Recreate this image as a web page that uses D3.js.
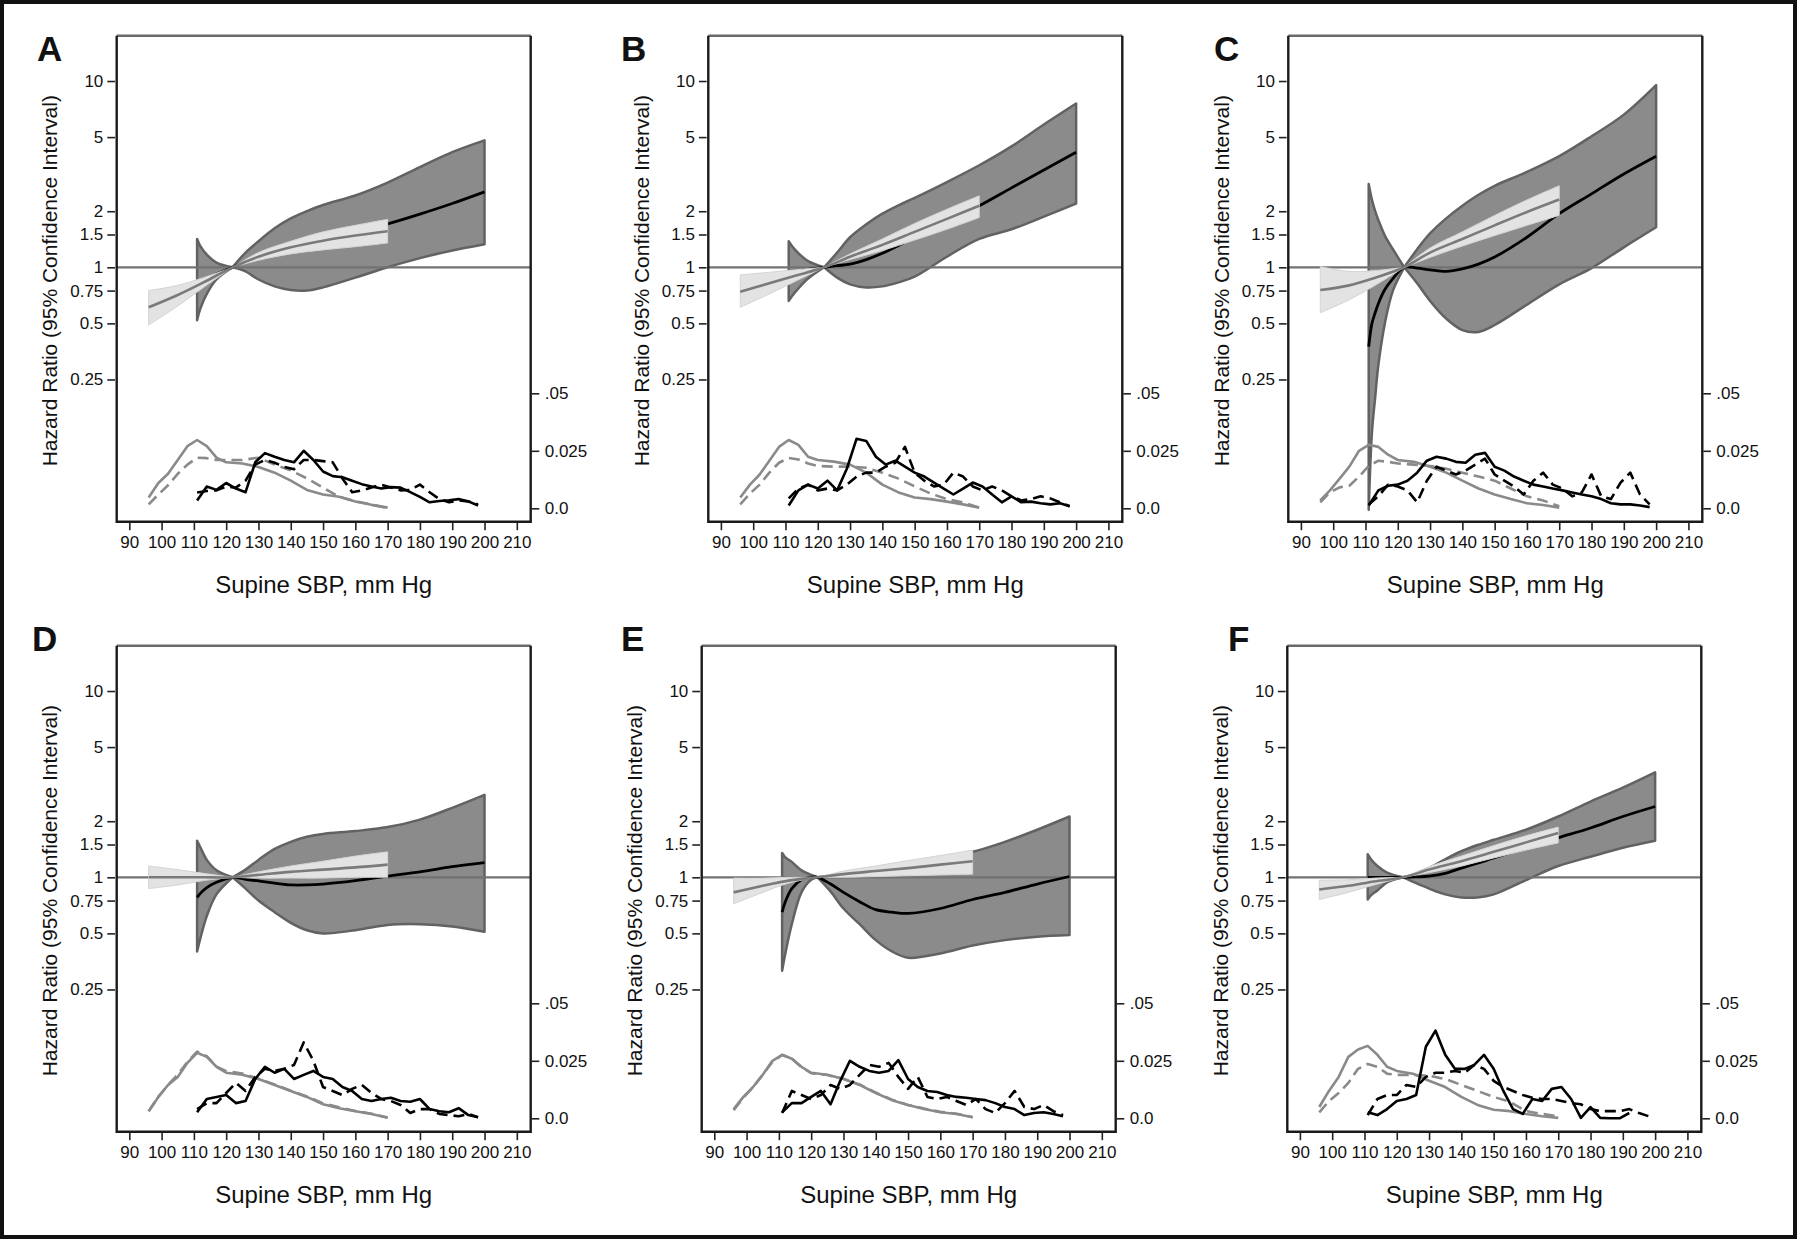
<!DOCTYPE html>
<meta charset="UTF-8">
<style>
body { margin: 0; background: #fff; }
text { font-family: "Liberation Sans", Arial, sans-serif; fill: #111; }
</style>
<body>
<script src="https://cdn.jsdelivr.net/npm/d3@7"></script>
<script>

var panelNames = ["A", "B", "C", "D", "E", "F"];

// axis ticks
var hrTicks = [10, 5, 2, 1.5, 1, 0.75, 0.5, 0.25];
var densTicks = [0.05, 0.025, 0];
var densTickLabels = [".05", "0.025", "0.0"];
var sbpTicks = [90, 100, 110, 120, 130, 140, 150, 160, 170, 180, 190, 200, 210];

// dark band (wide cohort): [SBP, lower CI, hazard ratio, upper CI]
var darkBand = [
  [[111,0.52,0.8,1.42],[112,0.6,0.82,1.3],[114,0.72,0.86,1.17],[117,0.86,0.92,1.06],[122,1,1,1],
   [126,0.95,1.07,1.2],[130,0.86,1.14,1.38],[135,0.79,1.22,1.62],[140,0.755,1.29,1.83],[145,0.75,1.36,2.0],
   [150,0.78,1.42,2.16],[160,0.88,1.54,2.43],[170,1.0,1.71,2.85],[180,1.12,1.93,3.45],[190,1.23,2.2,4.15],[200,1.33,2.54,4.8]],
  [[111,0.66,0.95,1.38],[112,0.7,0.955,1.3],[114,0.77,0.96,1.19],[117,0.87,0.975,1.08],[122,1,1,1],
   [126,0.88,1.02,1.2],[130,0.81,1.04,1.45],[135,0.78,1.1,1.7],[140,0.79,1.19,1.94],[145,0.83,1.31,2.15],
   [150,0.89,1.45,2.36],[160,1.14,1.76,2.87],[170,1.42,2.14,3.53],[180,1.6,2.67,4.46],[190,1.87,3.33,5.84],[200,2.2,4.15,7.57]],
  [[111,0.05,0.375,2.8],[112,0.13,0.5,2.3],[113,0.2,0.57,2.0],[114,0.3,0.64,1.79],[116,0.5,0.76,1.48],[118.5,0.75,0.87,1.25],[122,1,1,1],
   [126,0.82,0.99,1.25],[130,0.66,0.97,1.52],[135,0.53,0.95,1.83],[140,0.46,0.98,2.14],[145,0.45,1.04,2.45],
   [150,0.49,1.135,2.74],[160,0.63,1.45,3.25],[170,0.81,1.94,3.95],[180,0.99,2.48,5.05],[190,1.28,3.17,6.6],[200,1.64,3.95,9.5]],
  [[111,0.4,0.78,1.57],[112,0.47,0.82,1.45],[114,0.62,0.88,1.24],[117,0.81,0.94,1.09],[122,1,1,1],
   [126,0.87,0.975,1.1],[130,0.75,0.956,1.24],[135,0.65,0.93,1.42],[140,0.57,0.91,1.55],[145,0.52,0.91,1.65],
   [150,0.5,0.92,1.71],[160,0.52,0.96,1.77],[170,0.555,1.015,1.86],[180,0.56,1.07,2.04],[190,0.545,1.14,2.36],[200,0.51,1.2,2.77]],
  [[111,0.315,0.65,1.35],[112,0.39,0.74,1.28],[114,0.56,0.87,1.21],[117,0.83,0.97,1.09],[120,0.97,1.0,1.03],[122,1,1,1],
   [126,0.84,0.92,1.02],[130,0.68,0.83,1.04],[135,0.56,0.74,1.08],[140,0.46,0.67,1.12],[145,0.4,0.65,1.15],
   [150,0.37,0.64,1.18],[160,0.39,0.68,1.27],[170,0.43,0.76,1.37],[180,0.46,0.83,1.55],[190,0.48,0.92,1.8],[200,0.49,1.01,2.12]],
  [[111,0.76,1.0,1.33],[112,0.8,1.0,1.25],[114,0.85,1.0,1.15],[117,0.94,1.0,1.06],[122,1,1,1],
   [126,0.93,1.005,1.05],[130,0.87,1.015,1.12],[135,0.81,1.05,1.25],[140,0.78,1.12,1.38],[145,0.78,1.19,1.49],
   [150,0.81,1.27,1.59],[160,0.966,1.44,1.8],[170,1.15,1.63,2.12],[180,1.29,1.84,2.55],[190,1.44,2.12,3.03],[200,1.57,2.4,3.66]]
];

// light band (narrow cohort): [SBP, lower CI, hazard ratio, upper CI]
var lightBand = [
  [[96,0.49,0.61,0.75],[105,0.62,0.71,0.8],[113,0.78,0.83,0.88],[122,1,1,1],[130,1.09,1.14,1.2],
   [140,1.18,1.28,1.38],[150,1.24,1.39,1.55],[160,1.29,1.48,1.68],[170,1.35,1.56,1.81]],
  [[96,0.61,0.74,0.91],[105,0.72,0.82,0.94],[113,0.84,0.9,0.97],[122,1,1,1],[130,1.1,1.14,1.18],
   [140,1.23,1.32,1.42],[150,1.4,1.55,1.72],[160,1.6,1.82,2.05],[170,1.85,2.14,2.42]],
  [[96,0.57,0.755,1.01],[105,0.67,0.8,0.95],[113,0.8,0.88,0.96],[122,1,1,1],[130,1.13,1.2,1.27],
   [140,1.3,1.42,1.55],[150,1.48,1.68,1.9],[160,1.68,1.98,2.3],[170,1.9,2.31,2.74]],
  [[96,0.87,1.0,1.15],[105,0.91,1.0,1.1],[113,0.96,1.0,1.05],[122,1,1,1],[130,0.99,1.03,1.07],
   [140,0.99,1.07,1.15],[150,0.99,1.1,1.22],[160,1.0,1.13,1.3],[170,1.0,1.17,1.37]],
  [[96,0.72,0.83,0.99],[105,0.83,0.9,0.99],[113,0.93,0.96,1.0],[122,1,1,1],[130,1.0,1.04,1.08],
   [140,1.01,1.08,1.15],[150,1.02,1.12,1.23],[160,1.03,1.17,1.31],[170,1.04,1.22,1.4]],
  [[96,0.76,0.86,0.966],[105,0.83,0.9,0.97],[113,0.91,0.95,0.99],[122,1,1,1],[130,1.06,1.1,1.14],
   [140,1.15,1.22,1.3],[150,1.27,1.37,1.48],[160,1.4,1.54,1.67],[170,1.53,1.73,1.86]]
];

// SBP distribution (density), grey = narrow cohort, black = wide cohort
var grayX = [96, 99, 102, 105, 108, 111, 114, 117, 120, 125, 130, 135, 140, 145, 150, 155, 160, 165, 170];
var blackX = [111, 114, 117, 120, 123, 126, 129, 132, 135, 138, 141, 144, 147, 150, 153, 156, 159, 162, 165, 168,
              171, 174, 177, 180, 183, 186, 189, 192, 195, 198];

var graySolid = [
  [0.0047,0.011,0.015,0.021,0.027,0.0297,0.027,0.022,0.020,0.0195,0.018,0.0155,0.012,0.008,0.006,0.005,0.003,0.0015,0.0003],
  [0.0047,0.0103,0.0147,0.0207,0.0267,0.0297,0.0276,0.0224,0.021,0.0203,0.019,0.0155,0.0103,0.0069,0.0047,0.004,0.0029,0.0017,0.0003],
  [0.0034,0.0078,0.0129,0.0181,0.025,0.0276,0.0267,0.0233,0.021,0.0202,0.0181,0.0155,0.012,0.0086,0.006,0.004,0.0022,0.0014,0.0003],
  [0.0031,0.0093,0.0145,0.018,0.0241,0.0285,0.0267,0.0224,0.0198,0.0189,0.0171,0.0145,0.0119,0.0093,0.0061,0.0044,0.0031,0.0019,0.0002],
  [0.004,0.0093,0.0136,0.0189,0.025,0.0276,0.0259,0.0224,0.0198,0.0189,0.0171,0.0145,0.011,0.0079,0.0058,0.004,0.0026,0.0019,0.0005],
  [0.0049,0.0119,0.018,0.0267,0.0299,0.0315,0.0276,0.0224,0.0206,0.0194,0.0163,0.0136,0.0093,0.0058,0.0037,0.0031,0.0019,0.0009,0.0002]
];
var grayDash = [
  [0.0017,0.006,0.010,0.015,0.019,0.022,0.0218,0.021,0.021,0.021,0.022,0.019,0.0165,0.013,0.009,0.005,0.003,0.0017,0.0],
  [0.0017,0.0064,0.0103,0.0155,0.0198,0.0219,0.0212,0.0195,0.0184,0.0181,0.0181,0.0176,0.0155,0.0129,0.0095,0.0064,0.004,0.0026,0.0003],
  [0.0026,0.0069,0.0091,0.0098,0.0138,0.0184,0.0207,0.0202,0.0195,0.019,0.0184,0.0172,0.0155,0.0138,0.012,0.0086,0.0052,0.0034,0.0009],
  [0.0031,0.0093,0.0145,0.019,0.0245,0.029,0.027,0.0225,0.0205,0.0195,0.0172,0.0147,0.012,0.0095,0.0065,0.0048,0.0032,0.002,0.0003],
  [0.0035,0.009,0.0135,0.019,0.0245,0.0275,0.026,0.0222,0.0196,0.0188,0.0172,0.0147,0.0112,0.0081,0.0058,0.0042,0.0028,0.002,0.0005],
  [0.0026,0.0075,0.011,0.0154,0.0215,0.0236,0.0224,0.0194,0.0189,0.0189,0.0185,0.0171,0.0145,0.0119,0.0093,0.0072,0.0031,0.0019,0.0009]
];
var blackSolid = [
  [0.0034,0.0095,0.008,0.011,0.0086,0.007,0.020,0.024,0.0224,0.021,0.020,0.025,0.021,0.016,0.014,0.0135,0.012,0.0105,0.0095,0.0086,
   0.0092,0.009,0.007,0.005,0.0026,0.0032,0.0035,0.004,0.003,0.0012],
  [0.0012,0.0078,0.0103,0.0086,0.012,0.0078,0.0172,0.0302,0.0293,0.0224,0.019,0.0207,0.0181,0.0155,0.0138,0.0112,0.0086,0.006,0.0086,0.0112,
   0.0095,0.006,0.0026,0.0052,0.0026,0.0029,0.0022,0.0017,0.0022,0.0009],
  [0.0012,0.0078,0.0098,0.0103,0.012,0.0155,0.0207,0.0224,0.0216,0.0202,0.0198,0.0233,0.0241,0.0181,0.0164,0.0138,0.012,0.0103,0.0095,0.0086,
   0.0078,0.0069,0.006,0.0052,0.004,0.0022,0.0017,0.0017,0.0012,0.0005],
  [0.0026,0.0084,0.0093,0.0101,0.0066,0.0075,0.0171,0.0224,0.0198,0.0215,0.0171,0.0189,0.0206,0.018,0.0171,0.0136,0.0119,0.0084,0.0075,0.0084,
   0.0089,0.0075,0.0072,0.0084,0.004,0.0031,0.0026,0.0044,0.0014,0.0005],
  [0.0026,0.0066,0.0066,0.0093,0.0119,0.0061,0.0163,0.025,0.0224,0.0206,0.0198,0.0206,0.0253,0.0171,0.0136,0.0119,0.0114,0.0101,0.0093,0.0089,
   0.0084,0.0079,0.0066,0.0049,0.004,0.0014,0.0023,0.0026,0.0019,0.0009],
  [0.0026,0.0014,0.004,0.0075,0.0084,0.0101,0.0311,0.0381,0.0276,0.0215,0.0215,0.0232,0.0276,0.0215,0.0119,0.004,0.0019,0.0084,0.0075,0.0128,
   0.0136,0.0084,0.0002,0.0049,0.0002,0.0,0.0,0.0023,null,null]
];
var blackDash = [
  [0.0069,0.0075,0.0078,0.0095,0.009,0.012,0.019,0.021,0.0198,0.018,0.017,0.021,0.021,0.0205,0.02,0.013,0.007,0.0078,0.009,0.0103,
   0.009,0.0078,0.008,0.0103,0.007,0.004,0.0026,0.0034,0.003,0.0017],
  [0.0043,0.0086,0.0103,0.0078,0.0086,0.0078,0.0103,0.0138,0.0155,0.0155,0.0181,0.0198,0.0267,0.0155,0.012,0.0095,0.0103,0.0155,0.0138,0.0095,
   0.0078,0.0095,0.0078,0.0052,0.0034,0.004,0.0052,0.0043,0.0026,0.0009],
  [0.0017,0.0052,0.0103,0.0095,0.0078,0.0026,0.012,0.0181,0.0164,0.0147,0.0164,0.019,0.0216,0.0147,0.012,0.0095,0.006,0.012,0.0155,0.0103,
   0.0086,0.0052,0.0069,0.0147,0.0052,0.004,0.0112,0.0155,0.006,0.0017],
  [0.004,0.0066,0.0066,0.011,0.0154,0.0119,0.018,0.0215,0.0206,0.0215,0.0232,0.033,0.025,0.0136,0.0119,0.0101,0.0128,0.0145,0.011,0.0084,
   0.0075,0.0058,0.0023,0.004,0.004,0.0019,0.0014,0.0009,0.0019,0.0005],
  [0.0023,0.0119,0.0101,0.0084,0.0101,0.0145,0.0128,0.0145,0.0189,0.0232,0.0224,0.0241,0.018,0.0128,0.018,0.0093,0.0084,0.0093,0.0075,0.0058,
   0.0084,0.004,0.0023,0.0066,0.0119,0.0049,0.004,0.0058,0.0031,0.0014],
  [0.0014,0.0084,0.0101,0.0101,0.0145,0.0136,0.018,0.0198,0.0198,0.0206,0.0198,0.0232,0.0215,0.0163,0.0136,0.0119,0.0101,0.0089,0.0084,0.0084,
   0.0075,0.0066,0.0061,0.004,0.0031,0.0031,0.0031,0.004,0.0023,0.0009]
];

// layout
var W = 414, H = 486;
var panelLeft = [116.7, 708.3, 1288.3, 116.7, 701.7, 1287.3];
var panelTop = [35.7, 35.7, 35.7, 645.7, 645.7, 645.7];
var letterX = [37, 621, 1214, 32, 621, 1228];
var letterY = [61, 61, 61, 651, 651, 651];
var pinch = 122;

var svg = d3.select("body").append("svg")
    .attr("width", 1800)
    .attr("height", 1240);

svg.append("rect")
    .attr("x", 2).attr("y", 2)
    .attr("width", 1793).attr("height", 1235)
    .attr("fill", "#fff")
    .attr("stroke", "#111")
    .attr("stroke-width", 4);

// scales shared by all panels (panel-local coordinates)
var sbp = d3.scaleLinear().domain([86.1, 214.3]).range([0, W]);
var hr = d3.scaleLog().domain([0.04309, 17.51]).range([H, 0]);
var dens = d3.scaleLinear().domain([-0.005826, 0.20548]).range([H, 0]);

var smooth = d3.curveCatmullRom.alpha(0.5);

var bandArea = d3.area()
    .x(function(d) { return sbp(d[0]); })
    .y0(function(d) { return hr(d[1]); })
    .y1(function(d) { return hr(d[3]); })
    .curve(smooth);

var estLine = d3.line()
    .x(function(d) { return sbp(d[0]); })
    .y(function(d) { return hr(d[2]); })
    .curve(smooth);

var densLine = d3.line()
    .defined(function(d) { return d[1] != null; })
    .x(function(d) { return sbp(d[0]); })
    .y(function(d) { return dens(d[1]); });

function pairs(xs, ys) {
  return xs.map(function(x, i) { return [x, ys[i]]; });
}

// the confidence bands meet in a sharp point at the reference SBP, so draw each side separately
function bandPath(rows) {
  var left = rows.filter(function(r) { return r[0] <= pinch; });
  var right = rows.filter(function(r) { return r[0] >= pinch; });
  return bandArea(left) + bandArea(right);
}

panelNames.forEach(function(name, i) {
  var L = panelLeft[i], T = panelTop[i];
  var g = svg.append("g").attr("transform", "translate(" + L + "," + T + ")");

  // wide cohort confidence band
  g.append("path")
      .attr("d", bandPath(darkBand[i]))
      .attr("fill", "#8b8b8b")
      .attr("stroke", "#626262")
      .attr("stroke-width", 2.5)
      .attr("stroke-linejoin", "round");

  // reference line at HR = 1
  g.append("line")
      .attr("x1", 0).attr("x2", W)
      .attr("y1", hr(1)).attr("y2", hr(1))
      .attr("stroke", "#727272")
      .attr("stroke-width", 2.2);

  g.append("path")
      .attr("d", estLine(darkBand[i]))
      .attr("fill", "none")
      .attr("stroke", "#000")
      .attr("stroke-width", 2.8);

  // narrow cohort confidence band
  g.append("path")
      .attr("d", bandPath(lightBand[i]))
      .attr("fill", "#e3e3e3")
      .attr("stroke", "#d4d4d4")
      .attr("stroke-width", 1);

  g.append("path")
      .attr("d", estLine(lightBand[i]))
      .attr("fill", "none")
      .attr("stroke", "#7a7a7a")
      .attr("stroke-width", 2.6);

  // distribution curves
  var curves = [
    {data: pairs(grayX, graySolid[i]), color: "#8a8a8a", dash: null},
    {data: pairs(grayX, grayDash[i]), color: "#8a8a8a", dash: "11,6"},
    {data: pairs(blackX, blackSolid[i]), color: "#000", dash: null},
    {data: pairs(blackX, blackDash[i]), color: "#000", dash: "11,6"}
  ];
  curves.forEach(function(c) {
    g.append("path")
        .attr("d", densLine(c.data))
        .attr("fill", "none")
        .attr("stroke", c.color)
        .attr("stroke-width", 2.6)
        .attr("stroke-linejoin", "round")
        .attr("stroke-dasharray", c.dash);
  });

  // frame
  g.append("line").attr("x1", 0).attr("x2", W).attr("y1", 0).attr("y2", 0)
      .attr("stroke", "#6a6a6a").attr("stroke-width", 2.4);
  g.append("path")
      .attr("d", "M0,0V" + H + "H" + W + "V0")
      .attr("fill", "none")
      .attr("stroke", "#1a1a1a")
      .attr("stroke-width", 2.4);

  // left axis: hazard ratio
  var yAxis = g.append("g")
      .attr("transform", "translate(-1.7,0)")
      .call(d3.axisLeft(hr).tickValues(hrTicks).tickFormat(d3.format("")).tickSize(7.7).tickPadding(4));
  // right axis: density
  var dAxis = g.append("g")
      .attr("transform", "translate(" + (W + 1) + ",0)")
      .call(d3.axisRight(dens).tickValues(densTicks)
            .tickFormat(function(d, k) { return densTickLabels[k]; }).tickSize(7.6).tickPadding(5.4));
  // bottom axis: SBP
  var xAxis = g.append("g")
      .attr("transform", "translate(0," + (H + 1) + ")")
      .call(d3.axisBottom(sbp).tickValues(sbpTicks).tickSize(7.5).tickPadding(6));

  [yAxis, dAxis, xAxis].forEach(function(ax) {
    ax.select(".domain").remove();
    ax.selectAll(".tick line").attr("stroke", "#222").attr("stroke-width", 1.6);
    ax.selectAll(".tick text")
        .attr("font-size", 17)
        .attr("font-family", "Liberation Sans, Arial, sans-serif")
        .attr("fill", "#111");
  });

  // titles
  g.append("text")
      .attr("transform", "translate(-59.5," + 245 + ") rotate(-90)")
      .attr("text-anchor", "middle")
      .attr("font-size", 21)
      .text("Hazard Ratio (95% Confidence Interval)");

  g.append("text")
      .attr("x", W / 2)
      .attr("y", H + 71)
      .attr("text-anchor", "middle")
      .attr("font-size", 24)
      .text("Supine SBP, mm Hg");

  svg.append("text")
      .attr("x", letterX[i])
      .attr("y", letterY[i])
      .attr("font-size", 35)
      .attr("font-weight", "bold")
      .attr("fill", "#000")
      .text(name);
});

</script>
</body>
